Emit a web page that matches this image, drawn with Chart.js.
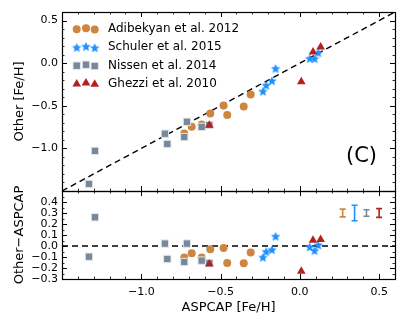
<!DOCTYPE html>
<html><head><meta charset="utf-8">
<script src="https://cdn.jsdelivr.net/npm/chart.js@4.4.0/dist/chart.umd.min.js"></script>
<style>html,body{margin:0;padding:0;background:#fff;}canvas{display:block;}</style>
</head><body>
<canvas id="c" width="407" height="326"></canvas>
<script>
// ---------------- data ----------------
const seriesNames = ['Adibekyan et al. 2012', 'Schuler et al. 2015', 'Nissen et al. 2014', 'Ghezzi et al. 2010'];

const adibAspcap = [-0.729, -0.682, -0.619, -0.565, -0.481, -0.458, -0.354, -0.310];
const adibOther  = [-0.824, -0.746, -0.719, -0.590, -0.498, -0.609, -0.509, -0.368];
const adibDiff   = [-0.105, -0.066, -0.105, -0.030, -0.018, -0.155, -0.157, -0.060];

const schuAspcap = [-0.233, -0.212, -0.176, -0.153, 0.062, 0.093, 0.116];
const schuOther  = [-0.330, -0.260, -0.207, -0.063, 0.054, 0.053, 0.123];
const schuDiff   = [-0.103, -0.051, -0.033, 0.088, -0.009, -0.042, 0.009];

const nissAspcap = [-1.330, -1.292, -0.851, -0.836, -0.729, -0.712, -0.619, -0.571];
const nissOther  = [-1.417, -1.029, -0.828, -0.948, -0.867, -0.688, -0.748, -0.726];
const nissDiff   = [-0.097, 0.261, 0.022, -0.118, -0.145, 0.022, -0.133, -0.155];

const ghezAspcap = [-0.571, 0.009, 0.083, 0.131];
const ghezOther  = [-0.730, -0.217, 0.132, 0.188];
const ghezDiff   = [-0.164, -0.230, 0.052, 0.058];

// typical error bars shown in the residual panel
const errX    = [0.27, 0.345, 0.42, 0.50];
const errY    = [0.30, 0.30, 0.30, 0.30];
const errSize = [0.035, 0.07, 0.03, 0.04];

const oneToOne = [-1.5, 0.6];
const xTickVals   = [-1.0, -0.5, 0.0, 0.5];
const topTickVals = [-1.0, -0.5, 0.0, 0.5];
const botTickVals = [-0.3, -0.2, -0.1, 0.0, 0.1, 0.2, 0.3, 0.4];
const xRange = [-1.5, 0.6];
const topRange = [-1.5, 0.6];
const botRange = [-0.3, 0.5];

// ---------------- styles ----------------
const colors = ['#CD853F', '#1E90FF', '#778899', '#B22222'];
Chart.defaults.font.family = "'DejaVu Sans', sans-serif";
Chart.defaults.color = '#000';

function makeStar(r, color) {
  const s = Math.ceil(r * 2 + 2);
  const c = document.createElement('canvas');
  c.width = s; c.height = s;
  const g = c.getContext('2d');
  g.fillStyle = color; g.beginPath();
  for (let i = 0; i < 10; i++) {
    const rr = i % 2 ? r * 0.45 : r;
    const a = -Math.PI / 2 + i * Math.PI / 5;
    g.lineTo(s / 2 + rr * Math.cos(a), s / 2 + rr * Math.sin(a) + 0.4);
  }
  g.closePath(); g.fill();
  return c;
}
const starImg = makeStar(5, colors[1]);

const markerStyles = [
  {pointStyle: 'circle', pointRadius: 4, backgroundColor: colors[0], borderColor: colors[0], borderWidth: 0},
  {pointStyle: starImg, pointRadius: 5, backgroundColor: colors[1], borderColor: colors[1], borderWidth: 0},
  {pointStyle: 'rect', pointRadius: 5.2, backgroundColor: colors[2], borderColor: '#e3e8ef', borderWidth: 1},
  {pointStyle: 'triangle', pointRadius: 5, backgroundColor: colors[3], borderColor: colors[3], borderWidth: 0}
];

function pts(xs, ys) { return xs.map((v, i) => ({x: v, y: ys[i]})); }
const fmt = v => (v < -1e-9 ? '\u2212' : '') + Math.abs(v).toFixed(1);

const groups = [
  [adibAspcap, adibOther, adibDiff],
  [schuAspcap, schuOther, schuDiff],
  [nissAspcap, nissOther, nissDiff],
  [ghezAspcap, ghezOther, ghezDiff]
];

const datasets = [];
groups.forEach((g, i) => {
  const st = markerStyles[i];
  const common = {
    pointStyle: st.pointStyle, pointRadius: st.pointRadius, pointHoverRadius: st.pointRadius,
    backgroundColor: st.backgroundColor, borderColor: st.borderColor, pointBorderWidth: st.borderWidth,
    borderWidth: st.borderWidth, order: 4 - i, showLine: false
  };
  datasets.push(Object.assign({label: seriesNames[i], data: pts(g[0], g[1]), xAxisID: 'x', yAxisID: 'yTop'}, common));
  datasets.push(Object.assign({label: seriesNames[i], data: pts(g[0], g[2]), xAxisID: 'x', yAxisID: 'yBot'}, common));
});
datasets.push({type: 'line', label: '1:1', data: pts(oneToOne, oneToOne), yAxisID: 'yTop',
  borderColor: '#000', borderWidth: 1.4, borderDash: [6, 4], pointRadius: 0, order: 10, fill: false});
datasets.push({type: 'line', label: 'zero', data: pts(oneToOne, [0, 0]), yAxisID: 'yBot',
  borderColor: '#000', borderWidth: 1.4, borderDash: [6, 4], pointRadius: 0, order: 10, fill: false});

function minorList(lo, hi, step, majors) {
  const out = [];
  const n = Math.round((hi - lo) / step);
  for (let k = 0; k <= n; k++) {
    const v = lo + k * step;
    if (!majors.some(m => Math.abs(m - v) < 1e-6)) out.push(v);
  }
  return out;
}

const panelPlugin = {
  id: 'panels',
  afterDatasetsDraw(chart) {
    const ctx = chart.ctx, xs = chart.scales.x, yb = chart.scales.yBot;
    ctx.save();
    ctx.lineWidth = 1.6;
    errX.forEach((xv, i) => {
      const px = xs.getPixelForValue(xv);
      const y1 = yb.getPixelForValue(errY[i] - errSize[i]);
      const y2 = yb.getPixelForValue(errY[i] + errSize[i]);
      ctx.strokeStyle = colors[i];
      ctx.beginPath();
      ctx.moveTo(px, y1); ctx.lineTo(px, y2);
      ctx.moveTo(px - 3, y1); ctx.lineTo(px + 3, y1);
      ctx.moveTo(px - 3, y2); ctx.lineTo(px + 3, y2);
      ctx.stroke();
    });
    ctx.restore();
  },
  afterDraw(chart) {
    const ctx = chart.ctx, xs = chart.scales.x, a = chart.chartArea;
    const xMinor = minorList(xRange[0], xRange[1], 0.1, xTickVals);
    const panels = [
      [chart.scales.yTop, topTickVals, minorList(topRange[0], topRange[1], 0.1, topTickVals)],
      [chart.scales.yBot, botTickVals, minorList(botRange[0], botRange[1], 0.05, botTickVals)]
    ];
    ctx.save();
    ctx.strokeStyle = '#000';
    panels.forEach(([ys, maj, mn]) => {
      const t = ys.top, b = ys.bottom, l = a.left, r = a.right;
      const tick = (vals, len, lw) => {
        ctx.lineWidth = lw; ctx.beginPath();
        vals.forEach(v => {
          const px = Math.round(xs.getPixelForValue(v)) + 0.5;
          if (px <= l + 1 || px >= r - 1) return;
          ctx.moveTo(px, t); ctx.lineTo(px, t + len);
          ctx.moveTo(px, b); ctx.lineTo(px, b - len);
        });
        ctx.stroke();
      };
      const ytick = (vals, len, lw) => {
        ctx.lineWidth = lw; ctx.beginPath();
        vals.forEach(v => {
          const py = Math.round(ys.getPixelForValue(v)) + 0.5;
          if (py <= t + 1 || py >= b - 1) return;
          ctx.moveTo(l, py); ctx.lineTo(l + len, py);
          ctx.moveTo(r, py); ctx.lineTo(r - len, py);
        });
        ctx.stroke();
      };
      tick(xTickVals, 5, 1); tick(xMinor, 2.5, 0.8);
      ytick(maj, 5, 1); ytick(mn, 2.5, 0.8);
      ctx.lineWidth = 1.2;
      ctx.strokeRect(Math.round(l) + 0.5, Math.round(t) + 0.5, Math.round(r - l), Math.round(b - t));
    });

    // legend (3 scatter points per entry)
    const lx = [a.left + 14.7, a.left + 24, a.left + 32.7];
    const ly0 = chart.scales.yTop.top + 17, dyStep = 18.2;
    const jit = [0.3, -0.7, 0.6];
    seriesNames.forEach((name, i) => {
      const y = ly0 + i * dyStep;
      const st = markerStyles[i];
      lx.forEach((x, k) => {
        const yy = y + jit[k];
        ctx.fillStyle = st.backgroundColor; ctx.strokeStyle = st.borderColor;
        if (i === 0) { ctx.beginPath(); ctx.arc(x, yy, 4, 0, Math.PI * 2); ctx.fill(); }
        else if (i === 1) { ctx.drawImage(starImg, x - starImg.width / 2, yy - starImg.height / 2); }
        else if (i === 2) { const s = 3.7; ctx.fillRect(x - s, yy - s, 2 * s, 2 * s); ctx.lineWidth = 1; ctx.strokeRect(x - s, yy - s, 2 * s, 2 * s); }
        else {
          const r = 5; ctx.beginPath();
          for (let q = 0; q < 3; q++) { const an = q * 2 * Math.PI / 3; ctx.lineTo(x + Math.sin(an) * r, yy - Math.cos(an) * r); }
          ctx.closePath(); ctx.fill();
        }
      });
      ctx.fillStyle = '#000';
      ctx.font = "12px 'DejaVu Sans', sans-serif";
      ctx.textAlign = 'left'; ctx.textBaseline = 'middle';
      ctx.fillText(name, a.left + 46, y);
    });

    // panel tag
    ctx.font = "21px 'DejaVu Sans', sans-serif";
    ctx.textAlign = 'center'; ctx.textBaseline = 'middle';
    ctx.fillStyle = '#000';
    ctx.fillText('(C)', a.right - 33.5, chart.scales.yTop.bottom - 34);
    ctx.restore();
  }
};

const tickFont = {size: 11};
new Chart(document.getElementById('c'), {
  type: 'scatter',
  data: {datasets},
  plugins: [panelPlugin],
  options: {
    responsive: false, animation: false, devicePixelRatio: 1,
    layout: {padding: {top: 12, right: 12, left: 0, bottom: 0}},
    plugins: {legend: {display: false}, tooltip: {enabled: false}},
    scales: {
      x: {
        type: 'linear', position: 'bottom', min: xRange[0], max: xRange[1],
        grid: {display: false, drawTicks: false}, border: {display: false},
        ticks: {font: tickFont, color: '#000', padding: 7, autoSkip: false, maxRotation: 0, callback: v => fmt(v)},
        afterBuildTicks: s => { s.ticks = xTickVals.map(v => ({value: v})); },
        afterFit: s => { s.height = 47; },
        title: {display: true, text: 'ASPCAP [Fe/H]', font: {size: 13}, color: '#000', padding: {top: 0, bottom: 10.5}}
      },
      yBot: {
        type: 'linear', position: 'left', stack: 'v', stackWeight: 88, min: botRange[0], max: botRange[1],
        grid: {display: false, drawTicks: false}, border: {display: false},
        ticks: {font: tickFont, color: '#000', padding: 4, autoSkip: false, callback: v => fmt(v)},
        afterBuildTicks: s => { s.ticks = botTickVals.map(v => ({value: v})); },
        afterFit: s => { s.width = 62; },
        title: {display: true, text: 'Other\u2212ASPCAP', font: {size: 13}, color: '#000', padding: {top: 12, bottom: 0}}
      },
      yTop: {
        type: 'linear', position: 'left', stack: 'v', stackWeight: 179, min: topRange[0], max: topRange[1],
        grid: {display: false, drawTicks: false}, border: {display: false},
        ticks: {font: tickFont, color: '#000', padding: 4, autoSkip: false, callback: v => fmt(v)},
        afterBuildTicks: s => { s.ticks = topTickVals.map(v => ({value: v})); },
        afterFit: s => { s.width = 62; },
        title: {display: true, text: 'Other [Fe/H]', font: {size: 13}, color: '#000', padding: {top: 12, bottom: 0}}
      }
    }
  }
});
</script>
</body></html>
